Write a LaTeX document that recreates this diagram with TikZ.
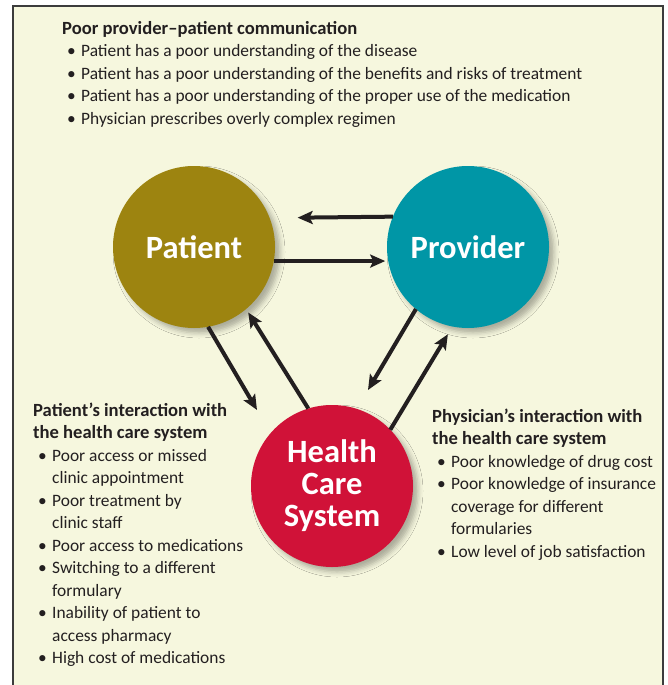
\documentclass[tikz,border=0pt]{standalone}
\usepackage{fontspec}
\setmainfont{Carlito}
\usetikzlibrary{arrows.meta,shadows.blur}
\definecolor{bgcream}{RGB}{246,247,222}
\definecolor{framegray}{RGB}{60,60,60}
\definecolor{patientolive}{RGB}{157,132,16}
\definecolor{providerteal}{RGB}{0,150,166}
\definecolor{hcsred}{RGB}{208,18,56}
\definecolor{txtdark}{RGB}{35,31,32}
\newcommand{\bitem}{\makebox[14pt][l]{\textbullet}}
\newcommand{\bcont}{\hspace*{14pt}}
\newcommand{\btitle}[1]{{\fontsize{18.6}{22.5}\selectfont\bfseries #1}}
\begin{document}
\begin{tikzpicture}[x=1pt,y=-1pt,
  hub/.style={circle,minimum size=162pt,inner sep=0pt,outer sep=0pt,text=white,
    font=\fontsize{32.5}{32}\selectfont\bfseries,align=center,
    blur shadow={shadow xshift=5pt,shadow yshift=-5pt,shadow blur radius=5pt,shadow opacity=30}},
  link/.style={line width=4pt,draw=txtdark,-{Stealth[length=15pt,width=13pt,inset=3pt]}},
  textblock/.style={anchor=base west,align=left,inner sep=0pt,text=txtdark,
    font=\fontsize{17.4}{22.5}\selectfont},
]
\fill[white] (0,0) rectangle (667,685);
\useasboundingbox (0,0) rectangle (667,685);
\fill[bgcream] (12.5,6.5) rectangle (662.7,690);
\draw[framegray,line width=2pt] (12.5,690) -- (12.5,6.5) -- (662.7,6.5) -- (662.7,690);

\node[hub,fill=patientolive] (patient) at (194,247) {Patient};
\node[hub,fill=providerteal] (provider) at (468,247) {Provider};
\node[hub,fill=hcsred] (hcs) at (332,486) {Health\\Care\\System};

\coordinate (tipPH) at (257,410);
\coordinate (tipVH) at (368,390);

\draw[link,shorten >=28pt] (provider.158.3) -- (patient.21.7);
\draw[link,shorten >=3pt] (patient.-10) -- (provider.190);
\draw[link] (patient.-80.9) -- (tipPH);
\draw[link,shorten >=4pt] (hcs.107.8) -- (patient.-50.7);
\draw[link] (provider.-130) -- (tipVH);
\draw[link,shorten >=9pt] (hcs.44) -- (provider.-101.6);

\node[textblock] (comm) at (62,124) {\btitle{Poor provider–patient communication}\\
\hspace*{5pt}\bitem Patient has a poor understanding of the disease\\
\hspace*{5pt}\bitem Patient has a poor understanding of the benefits and risks of treatment\\
\hspace*{5pt}\bitem Patient has a poor understanding of the proper use of the medication\\
\hspace*{5pt}\bitem Physician prescribes overly complex regimen};

\node[textblock] (patsys) at (33,663.5) {\btitle{Patient’s interaction with}\\
\btitle{the health care system}\\
\hspace*{5pt}\bitem Poor access or missed\\
\hspace*{5pt}\bcont clinic appointment\\
\hspace*{5pt}\bitem Poor treatment by\\
\hspace*{5pt}\bcont clinic staff\\
\hspace*{5pt}\bitem Poor access to medications\\
\hspace*{5pt}\bitem Switching to a different\\
\hspace*{5pt}\bcont formulary\\
\hspace*{5pt}\bitem Inability of patient to\\
\hspace*{5pt}\bcont access pharmacy\\
\hspace*{5pt}\bitem High cost of medications};

\node[textblock] (physsys) at (432,557) {\btitle{Physician’s interaction with}\\
\btitle{the health care system}\\
\hspace*{5pt}\bitem Poor knowledge of drug cost\\
\hspace*{5pt}\bitem Poor knowledge of insurance\\
\hspace*{5pt}\bcont coverage for different\\
\hspace*{5pt}\bcont formularies\\
\hspace*{5pt}\bitem Low level of job satisfaction};
\end{tikzpicture}
\end{document}
